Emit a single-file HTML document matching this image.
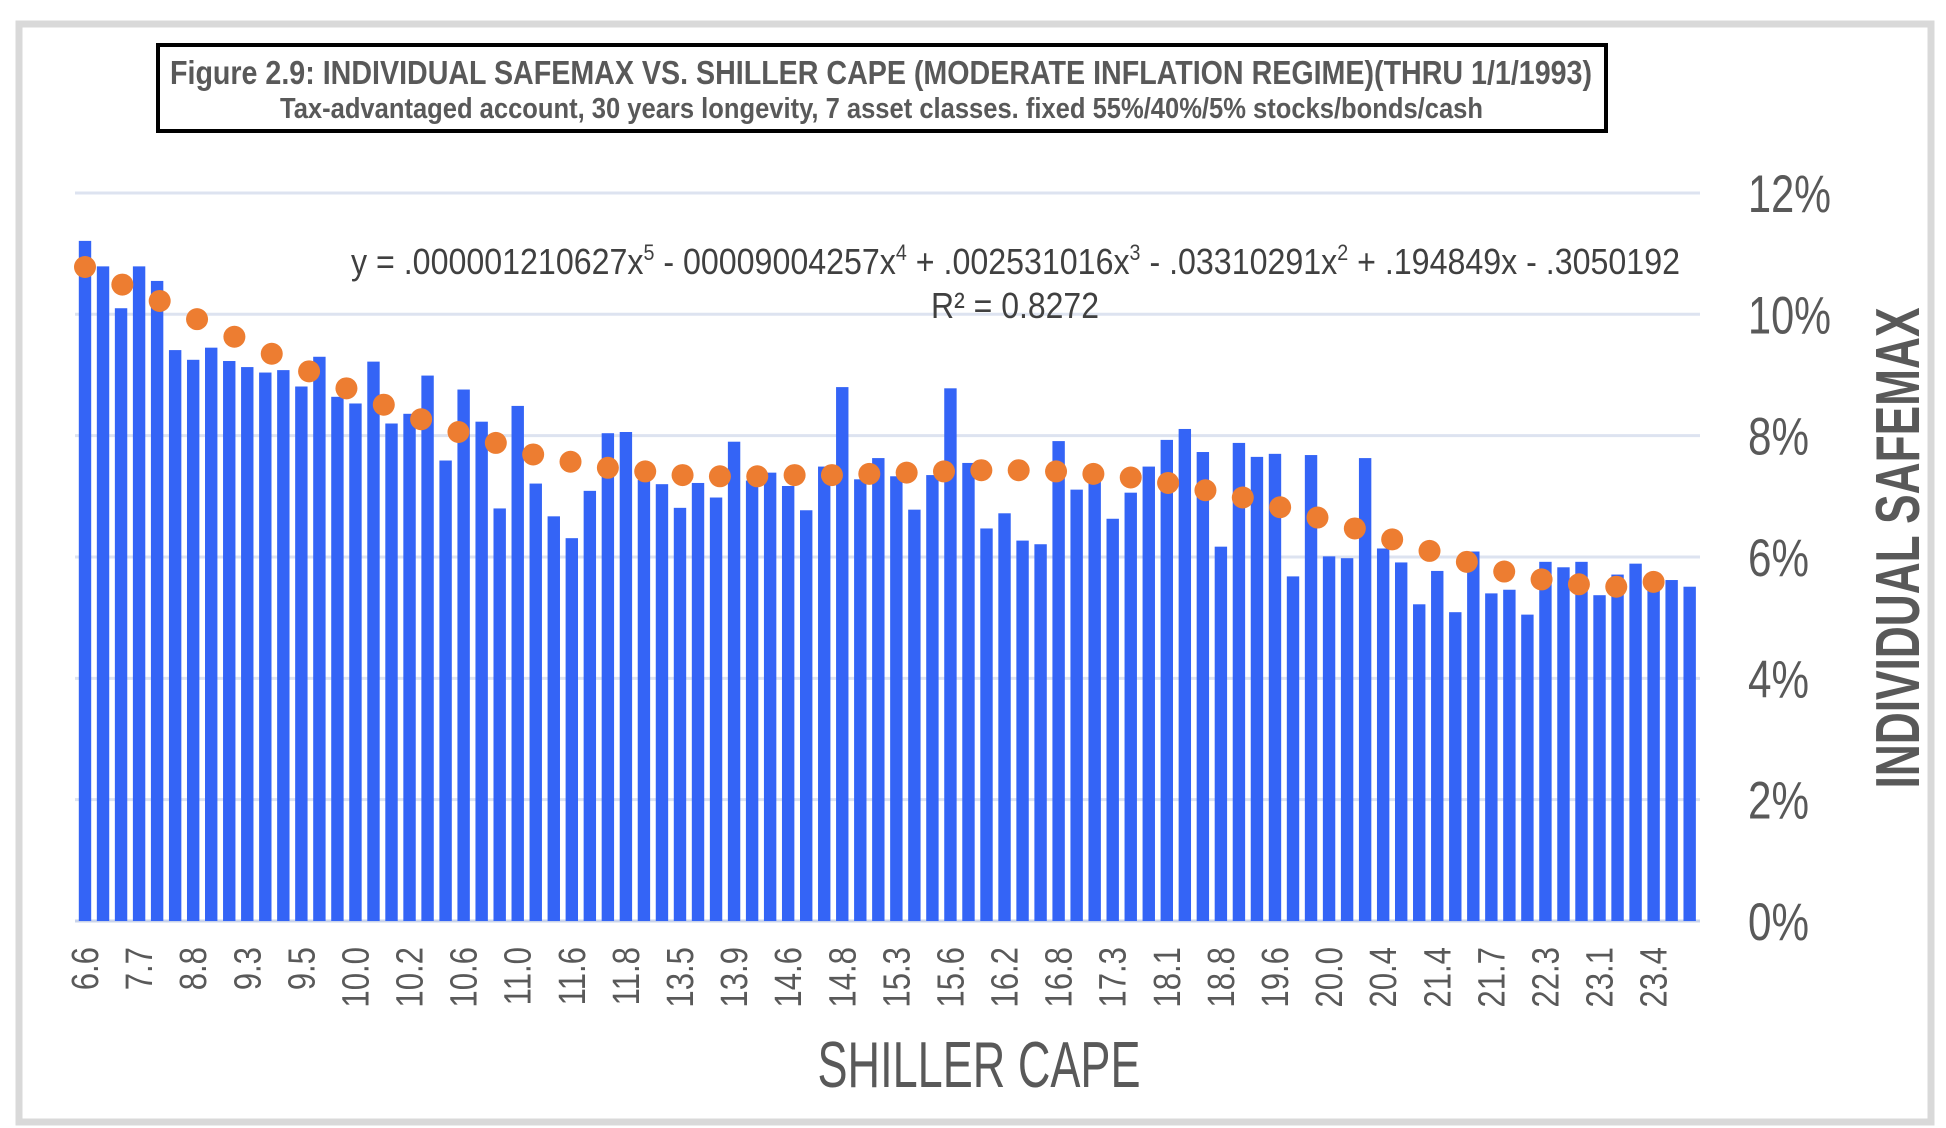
<!DOCTYPE html>
<html><head><meta charset="utf-8"><style>
html,body{margin:0;padding:0;background:#fff;}
svg{display:block;font-family:"Liberation Sans",Arial,sans-serif;}
</style></head><body>
<svg id="chart" width="1946" height="1128" viewBox="0 0 1946 1128" xmlns="http://www.w3.org/2000/svg">
<rect x="19" y="24" width="1912" height="1098" fill="#fff" stroke="#d9d9d9" stroke-width="7"/>
<g id="grid"></g>
<g id="bars"></g>
<g id="trend"></g>
<g id="yticks"></g>
<g id="xticks"></g>
<g>
<rect x="158" y="45" width="1448" height="86" fill="#fff" stroke="#000" stroke-width="4"/>
<text x="170" y="84" font-size="33" font-weight="bold" fill="#595959" textLength="1422" lengthAdjust="spacingAndGlyphs">Figure 2.9: INDIVIDUAL SAFEMAX VS. SHILLER CAPE (MODERATE INFLATION REGIME)(THRU 1/1/1993)</text>
<text x="280" y="118" font-size="29" font-weight="bold" fill="#595959" textLength="1203" lengthAdjust="spacingAndGlyphs">Tax-advantaged account, 30 years longevity, 7 asset classes. fixed 55%/40%/5% stocks/bonds/cash</text>
</g>
<text x="351" y="274" font-size="36" fill="#404040" textLength="1329" lengthAdjust="spacingAndGlyphs">y = .000001210627x<tspan font-size="22" dy="-14">5</tspan><tspan dy="14"> - 00009004257x</tspan><tspan font-size="22" dy="-14">4</tspan><tspan dy="14"> + .002531016x</tspan><tspan font-size="22" dy="-14">3</tspan><tspan dy="14"> - .03310291x</tspan><tspan font-size="22" dy="-14">2</tspan><tspan dy="14"> + .194849x - .3050192</tspan></text>
<text x="931" y="318" font-size="36" fill="#404040" textLength="168" lengthAdjust="spacingAndGlyphs">R² = 0.8272</text>
<text transform="translate(1919,548) rotate(-90)" text-anchor="middle" font-size="62" font-weight="bold" fill="#595959" textLength="481" lengthAdjust="spacingAndGlyphs">INDIVIDUAL SAFEMAX</text>
<text x="979" y="1087" text-anchor="middle" font-size="65" fill="#595959" textLength="323" lengthAdjust="spacingAndGlyphs">SHILLER CAPE</text>
</svg>
<script>
const safemax = [11.21,10.79,10.10,10.79,10.55,9.41,9.25,9.45,9.23,9.13,9.04,9.08,8.81,9.30,8.64,8.53,9.22,8.20,8.36,8.99,7.59,8.76,8.23,6.80,8.49,7.21,6.67,6.31,7.09,8.04,8.06,7.27,7.20,6.81,7.22,6.98,7.90,7.26,7.39,7.17,6.77,7.49,8.80,7.28,7.63,7.33,6.78,7.35,8.78,7.55,6.47,6.72,6.27,6.21,7.91,7.11,7.33,6.63,7.06,7.49,7.93,8.11,7.73,6.17,7.88,7.65,7.70,5.68,7.68,6.01,5.98,7.63,6.14,5.91,5.22,5.77,5.09,6.09,5.40,5.46,5.05,5.92,5.83,5.92,5.37,5.71,5.89,5.58,5.62,5.51];
const trendValues = [10.78,10.49,10.22,9.92,9.63,9.35,9.06,8.78,8.51,8.27,8.06,7.88,7.69,7.57,7.47,7.41,7.35,7.33,7.33,7.35,7.35,7.37,7.39,7.41,7.43,7.43,7.41,7.37,7.31,7.22,7.10,6.98,6.82,6.65,6.47,6.29,6.10,5.92,5.76,5.63,5.55,5.51,5.59];
const tickLabels = ["6.6","7.7","8.8","9.3","9.5","10.0","10.2","10.6","11.0","11.6","11.8","13.5","13.9","14.6","14.8","15.3","15.6","16.2","16.8","17.3","18.1","18.8","19.6","20.0","20.4","21.4","21.7","22.3","23.1","23.4"];
const yTicks = [0,2,4,6,8,10,12];
const labelEvery = 3;
const trendSpan = 87;

const NS = "http://www.w3.org/2000/svg";
const x0 = 85, step = 18.03, yBase = 921, perPct = 60.67;
const xScale = i => x0 + i * step;
const yScale = v => yBase - v * perPct;
function mk(tag, attrs, parent){const e=document.createElementNS(NS,tag);for(const k in attrs)e.setAttribute(k,attrs[k]);parent.appendChild(e);return e;}

const grid=document.getElementById('grid'), yt=document.getElementById('yticks');
yTicks.forEach(t=>{
  const l=mk('line',{x1:75,x2:1700,y1:yScale(t),y2:yScale(t),stroke:t===0?'#c9d3ea':'#dde3f0','stroke-width':3},grid);
  
  
  const tx=mk('text',{x:1748,y:yScale(t)+19,'font-size':53,fill:'#595959',textLength:(t>=10?83:61),lengthAdjust:'spacingAndGlyphs'},yt);
  tx.textContent=t+'%';
  
  
});
const bars=document.getElementById('bars');
safemax.forEach((v,i)=>{
  const r=mk('rect',{x:xScale(i)-6.2,y:yScale(v),width:12.4,height:yBase-yScale(v),fill:'#3464f6'},bars);
  
  
});
const trend=document.getElementById('trend');
trendValues.forEach((v,k)=>{
  const c=mk('circle',{cx:xScale(k*trendSpan/(trendValues.length-1)),cy:yScale(v),r:11,fill:'#ed7d31'},trend);
  
  
});
const xt=document.getElementById('xticks');
tickLabels.forEach((s,k)=>{
  const x=xScale(k*labelEvery)+13;
  const t=mk('text',{transform:`translate(${x},947) rotate(-90) scale(0.82,1)`,'text-anchor':'end','font-size':38,fill:'#595959'},xt);
  t.textContent=s;
  
  
});
</script>
</body></html>
